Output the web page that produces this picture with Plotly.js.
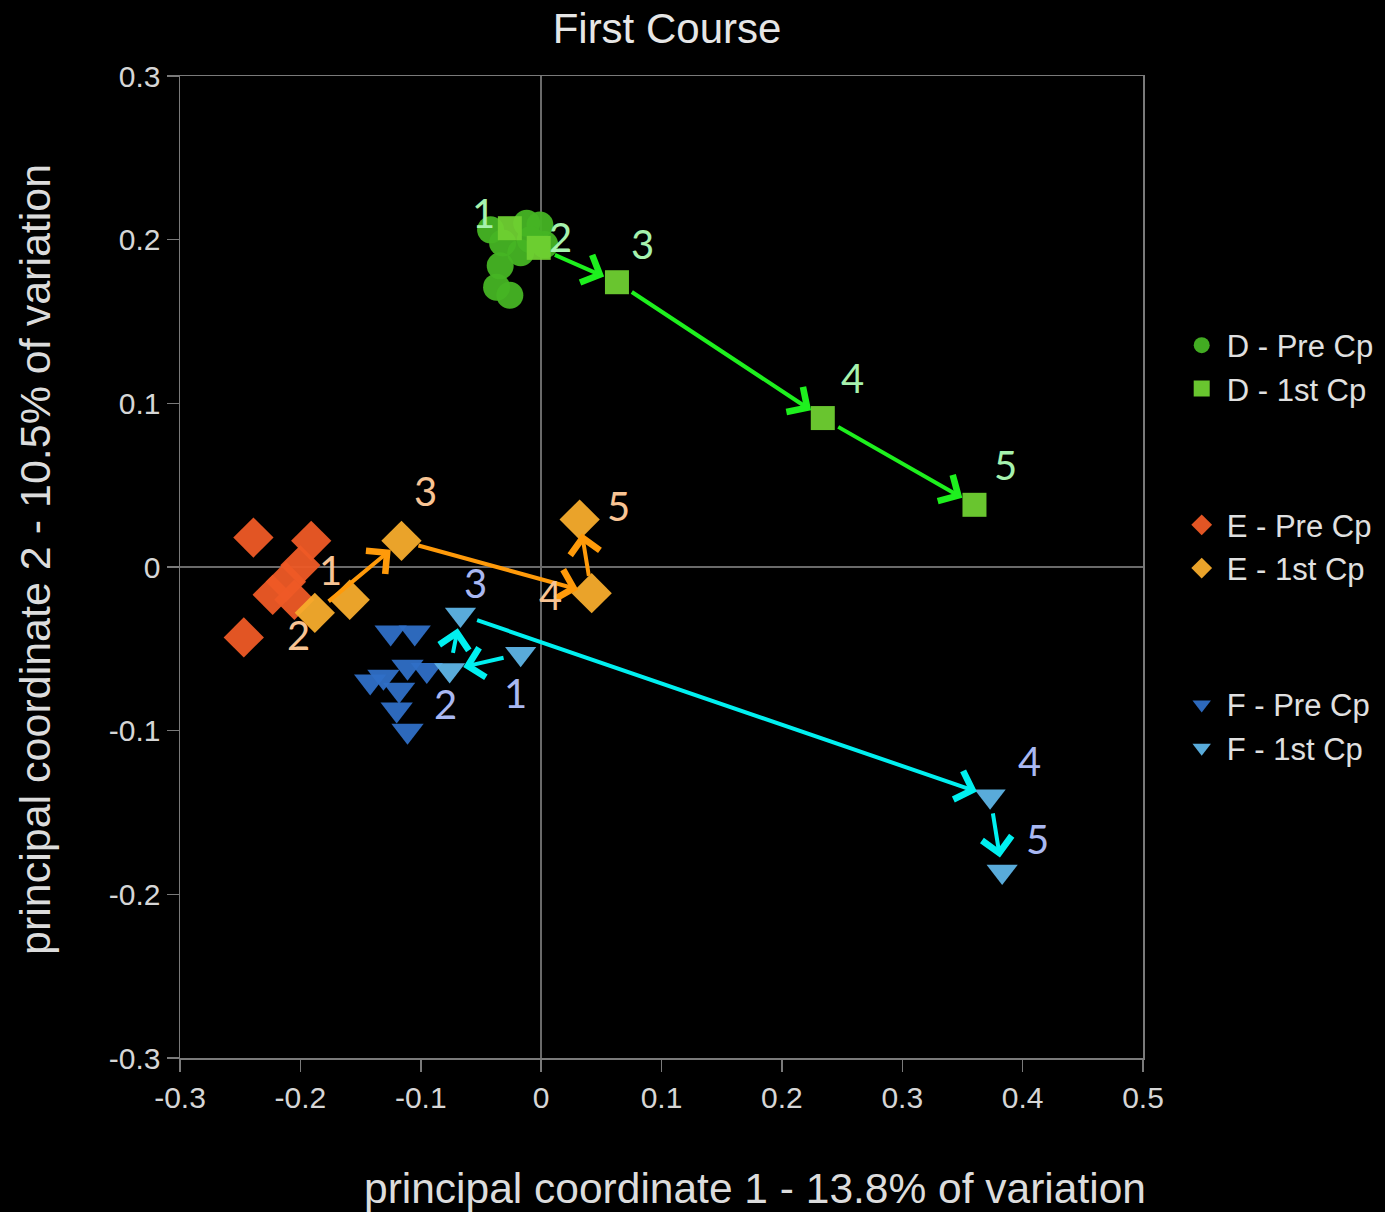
<!DOCTYPE html>
<html>
<head>
<meta charset="utf-8">
<script src="https://cdn.plot.ly/plotly-3.0.1.min.js"></script>
<style>html,body{margin:0;padding:0;background:#000;}#chart{width:1385px;height:1212px;}</style>
</head>
<body>
<div id="chart"></div>
<script>
// ---- data ----
const seriesNames = ["D - Pre Cp", "D - 1st Cp", "E - Pre Cp", "E - 1st Cp", "F - Pre Cp", "F - 1st Cp"];

const dPreX = [-0.012, -0.032, -0.017, 0.003, -0.037, -0.026, -0.042, -0.001, -0.009, -0.034];
const dPreY = [0.210, 0.198, 0.192, 0.197, 0.171, 0.166, 0.206, 0.209, 0.200, 0.184];
const d1stX = [-0.026, -0.002, 0.063, 0.234, 0.360];
const d1stY = [0.207, 0.195, 0.174, 0.091, 0.038];

const ePreX = [-0.239, -0.191, -0.200, -0.212, -0.223, -0.247, -0.205];
const ePreY = [0.018, 0.016, 0.001, -0.009, -0.017, -0.043, -0.020];
const e1stX = [-0.159, -0.188, -0.116, 0.042, 0.032];
const e1stY = [-0.020, -0.028, 0.016, -0.016, 0.029];

const fPreX = [-0.125, -0.105, -0.131, -0.111, -0.095, -0.120, -0.111, -0.142, -0.118];
const fPreY = [-0.040, -0.040, -0.067, -0.061, -0.063, -0.087, -0.100, -0.070, -0.075];
const f1stX = [-0.017, -0.076, -0.067, 0.373, 0.383];
const f1stY = [-0.053, -0.063, -0.029, -0.140, -0.186];

const pointLabels = ["1", "2", "3", "4", "5"];
// arrow sequences (index pairs from -> to) for each 1st Cp series
const dArrows = [[1, 2], [2, 3], [3, 4]];
const eArrows = [[1, 2], [2, 3], [3, 4]];
const fArrows = [[0, 1], [1, 2], [2, 3], [3, 4]];

const xTickVals = [-0.3, -0.2, -0.1, 0, 0.1, 0.2, 0.3, 0.4, 0.5];
const xTickText = ["-0.3", "-0.2", "-0.1", "0", "0.1", "0.2", "0.3", "0.4", "0.5"];
const yTickVals = [-0.3, -0.2, -0.1, 0, 0.1, 0.2, 0.3];
const yTickText = ["-0.3", "-0.2", "-0.1", "0", "0.1", "0.2", "0.3"];

// ---- styles ----
const FONT = "Liberation Sans, Arial, sans-serif";
const LABEL_FONT = "Lato, Open Sans, sans-serif";
const styles = [
  {color: "#46b424", symbol: "circle", size: 27, group: "D"},
  {color: "#6fd032", symbol: "square", size: 24, group: "D"},
  {color: "#ee5a26", symbol: "diamond", size: 31, group: "E"},
  {color: "#f7ac2c", symbol: "diamond", size: 31, group: "E"},
  {color: "#2f6fc6", symbol: "triangle-down", size: 28, group: "F"},
  {color: "#5eb4e6", symbol: "triangle-down", size: 27, group: "F"}
];
const arrowColors = {D: "#1ef01e", E: "#ff9a0a", F: "#00f0f0"};
const labelColors = {D: "#a6f2ae", E: "#f9c494", F: "#a9b8f2"};
// pixel offsets of number labels from their point
const dOffsets = [[-26, 15], [22, 11], [26, 38], [30, 40], [31, 40]];
const eOffsets = [[-19, 30], [-16, -22], [24, 50], [-41, -2], [39, 14]];
const fOffsets = [[-5, -39], [-4, -34], [15, 31], [39, 35], [35, 32]];

const xs = [dPreX, d1stX, ePreX, e1stX, fPreX, f1stX];
const ys = [dPreY, d1stY, ePreY, e1stY, fPreY, f1stY];

const traces = seriesNames.map((name, i) => ({
  type: "scatter",
  mode: "markers",
  name: name,
  x: xs[i],
  y: ys[i],
  legendgroup: styles[i].group,
  marker: {color: styles[i].color, symbol: styles[i].symbol, size: styles[i].size,
           line: {width: 0}, opacity: 0.95}
}));

const annotations = [];
function addArrows(X, Y, pairs, color) {
  pairs.forEach(([a, b]) => {
    annotations.push({
      x: X[b], y: Y[b], ax: X[a], ay: Y[a],
      xref: "x", yref: "y", axref: "x", ayref: "y",
      text: "", showarrow: true, arrowhead: 4, arrowsize: 1.45, arrowwidth: 4,
      arrowcolor: color, standoff: 14, startstandoff: 16
    });
  });
}
function addLabels(X, Y, offsets, color) {
  X.forEach((xv, i) => {
    annotations.push({
      x: xv, y: Y[i], xref: "x", yref: "y", text: pointLabels[i], showarrow: false,
      xshift: offsets[i][0], yshift: offsets[i][1],
      font: {family: LABEL_FONT, size: 40, color: color}
    });
  });
}
addArrows(d1stX, d1stY, dArrows, arrowColors.D);
addArrows(e1stX, e1stY, eArrows, arrowColors.E);
addArrows(f1stX, f1stY, fArrows, arrowColors.F);
addLabels(d1stX, d1stY, dOffsets, labelColors.D);
addLabels(e1stX, e1stY, eOffsets, labelColors.E);
addLabels(f1stX, f1stY, fOffsets, labelColors.F);

// axis titles
annotations.push({
  xref: "paper", yref: "paper", x: (755 - 180) / 963, y: -(1188 - 1058) / 982,
  xanchor: "center", yanchor: "middle", showarrow: false,
  text: "principal coordinate 1 - 13.8% of variation",
  font: {family: FONT, size: 42.5, color: "#dcdcdc"}
});
annotations.push({
  xref: "paper", yref: "paper", x: -(180 - 35) / 963, y: (1058 - 560) / 982,
  xanchor: "center", yanchor: "middle", showarrow: false, textangle: -90,
  text: "principal coordinate 2 - 10.5% of variation",
  font: {family: FONT, size: 43, color: "#dcdcdc"}
});

const axisCommon = {
  showgrid: false, zeroline: true, zerolinecolor: "#6a6a6a", zerolinewidth: 1.5,
  showline: true, linecolor: "#7a7a7a", linewidth: 1.5, mirror: true,
  ticks: "outside", ticklen: 12, tickcolor: "#7a7a7a", tickwidth: 1.5,
  tickfont: {family: FONT, size: 30, color: "#d6d6d6"}
};

const layout = {
  width: 1385, height: 1212,
  paper_bgcolor: "#000", plot_bgcolor: "#000",
  margin: {l: 180, r: 242, t: 76, b: 154, autoexpand: false},
  title: {text: "First Course", x: 667 / 1385, xref: "container", xanchor: "center",
          y: 1 - 28 / 1212, yref: "container", yanchor: "middle",
          font: {family: FONT, size: 42, color: "#e6e6e6"}},
  xaxis: Object.assign({}, axisCommon, {range: [-0.3, 0.5], tickvals: xTickVals, ticktext: xTickText}),
  yaxis: Object.assign({}, axisCommon, {range: [-0.3, 0.3], tickvals: yTickVals, ticktext: yTickText}),
  legend: {x: 1.035, xanchor: "left", y: 0.753, yanchor: "top",
           font: {family: FONT, size: 31, color: "#e0e0e0"},
           bgcolor: "rgba(0,0,0,0)", tracegroupgap: 93, itemwidth: 40},
  showlegend: true,
  annotations: annotations
};

Plotly.newPlot("chart", traces, layout, {displayModeBar: false, staticPlot: true});
</script>
</body>
</html>
